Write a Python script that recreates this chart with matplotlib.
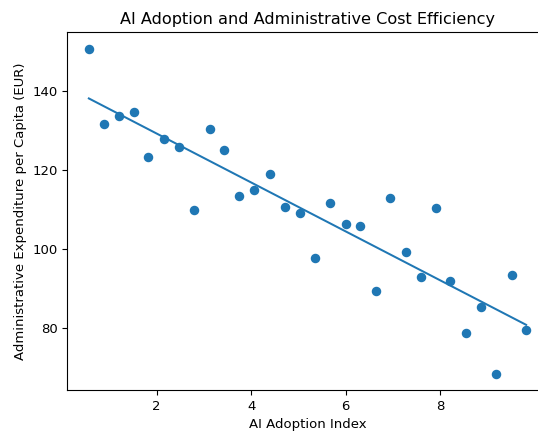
import matplotlib
matplotlib.use('Agg')
import matplotlib.pyplot as plt
import numpy as np

# AI adoption index vs administrative spend per capita
ai_index = [0.57, 0.89, 1.20, 1.53, 1.83, 2.16, 2.47, 2.80, 3.13, 3.43,
            3.74, 4.06, 4.40, 4.71, 5.03, 5.35, 5.67, 6.00, 6.31, 6.63,
            6.94, 7.27, 7.58, 7.91, 8.21, 8.54, 8.86, 9.18, 9.51, 9.81]
admin_cost = [150.6, 131.5, 133.6, 134.7, 123.1, 127.8, 125.8, 109.9, 130.3, 125.1,
              113.3, 115.0, 118.8, 110.7, 109.0, 97.6, 111.7, 106.3, 105.8, 89.4,
              112.9, 99.2, 92.9, 110.4, 91.9, 78.8, 85.3, 68.4, 93.3, 79.6]

x = np.array(ai_index)
y = np.array(admin_cost)

plt.rcParams['font.size'] = 9.5

fig = plt.figure(figsize=(5.38, 4.32), dpi=100)
# axes run past the right edge, like the cropped reference
ax = fig.add_axes([0.1245, 0.0963, 0.894, 0.829])

ax.scatter(x, y, color='#1f77b4', s=34)

# linear trend
slope, intercept = np.polyfit(x, y, 1)
xs = np.array([x.min(), x.max()])
ax.plot(xs, slope * xs + intercept, color='#1f77b4', linewidth=1.45)

ax.set_xticks([2, 4, 6, 8])
ax.set_yticks([80, 100, 120, 140])
ax.tick_params(length=3.4, pad=3.4)
ax.spines['right'].set_visible(False)  # cropped off in the reference
ax.set_xlabel('AI Adoption Index', labelpad=3.5)
ax.set_ylabel('Administrative Expenditure per Capita (EUR)')
ax.set_title('AI Adoption and Administrative Cost Efficiency', fontsize=11.6, pad=5.8)

fig.savefig('out.png', dpi=100)
